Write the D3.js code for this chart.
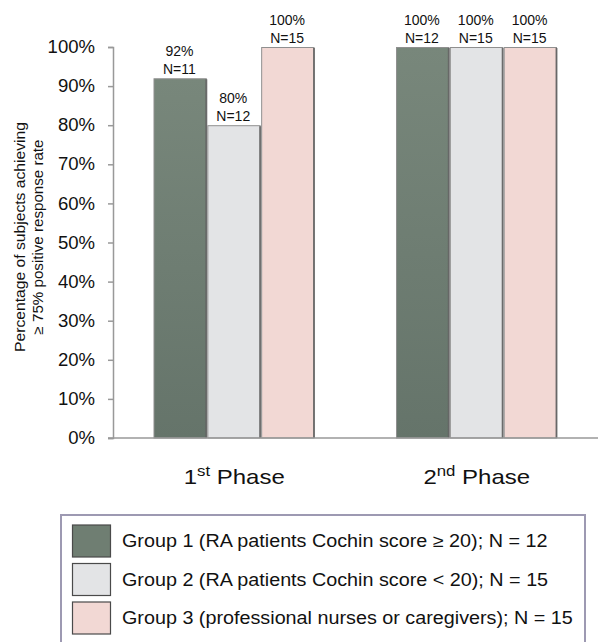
<!DOCTYPE html>
<html><head><meta charset="utf-8">
<script src="https://cdn.jsdelivr.net/npm/d3@7"></script>
<style>body{margin:0;background:#fff}svg{display:block;font-family:"Liberation Sans",Arial,sans-serif}</style>
</head><body><svg id="c" width="598" height="642"></svg>
<script>
const phases = ["1st Phase", "2nd Phase"];
const groups = ["Group 1", "Group 2", "Group 3"];
const values = [[92, 80, 100], [100, 100, 100]];
const nLabels = [["N=11", "N=12", "N=15"], ["N=12", "N=15", "N=15"]];
const yTicks = [0, 10, 20, 30, 40, 50, 60, 70, 80, 90, 100];
const legendLabels = [
  "Group 1 (RA patients Cochin score \u2265 20); N = 12",
  "Group 2 (RA patients Cochin score < 20); N = 15",
  "Group 3 (professional nurses or caregivers); N = 15"
];
const colors = ["#6f7e72", "#e3e4e6", "#f2d8d4"];

const svg = d3.select("#c");
const defs = svg.append("defs");
const g1 = defs.append("linearGradient").attr("id","g1").attr("x1",0).attr("y1",0).attr("x2",0).attr("y2",1);
g1.append("stop").attr("offset","0%").attr("stop-color","#78877b");
g1.append("stop").attr("offset","100%").attr("stop-color","#65746a");
const fills = ["url(#g1)", colors[1], colors[2]];

function stretch(sel, ax, k) {
  sel.attr("transform", `translate(${ax},0) scale(${k},1) translate(${-ax},0)`);
}

const x0 = d3.scaleBand().domain(phases).range([113, 598]).paddingInner(0.334).paddingOuter(0.167);
const x1 = d3.scaleBand().domain(groups).range([0, x0.bandwidth()]).padding(0);
const y = d3.scaleLinear().domain([0, 100]).range([438, 47]);

// y axis
const yAxis = d3.axisLeft(y).tickValues(yTicks).tickFormat(d => d + "%").tickSize(5).tickPadding(13);
const ya = svg.append("g").attr("transform","translate(113,0)").call(yAxis);
ya.select(".domain").attr("stroke","#999").attr("stroke-width",1.5);
ya.selectAll(".tick line").attr("stroke","#999").attr("stroke-width",1.5);
ya.selectAll(".tick text").attr("font-size",17.5).attr("fill","#111")
  .attr("font-family","'Liberation Sans',Arial,sans-serif")
  .each(function(){ stretch(d3.select(this), -18, 1.06); });

// bars
phases.forEach((p, pi) => {
  const gg = svg.append("g").attr("transform", `translate(${x0(p)},0)`);
  groups.forEach((gname, gi) => {
    const bx = x1(gname), bw = x1.bandwidth(), by = y(values[pi][gi]), bh = y(0) - y(values[pi][gi]);
    gg.append("rect").attr("x", bx + 0.5).attr("y", by + 0.5).attr("width", bw - 1.5).attr("height", bh - 0.5)
      .attr("fill", fills[gi]).attr("stroke", "#8f8f8f").attr("stroke-width", 1);
    gg.append("rect").attr("x", bx + bw - 2).attr("y", by + 1).attr("width", 2).attr("height", bh - 1).attr("fill", "#5a5a5a").attr("opacity", 0.75);
    const cx = bx + bw / 2 - 1;
    gg.append("text").attr("x", cx).attr("y", by - 22).attr("text-anchor","middle").attr("font-size",14).attr("fill","#111").text(values[pi][gi] + "%");
    gg.append("text").attr("x", cx).attr("y", by - 4).attr("text-anchor","middle").attr("font-size",14).attr("fill","#111").text(nLabels[pi][gi]);
  });
});

// x axis line
svg.append("line").attr("x1",108).attr("x2",598).attr("y1",y(0)).attr("y2",y(0)).attr("stroke","#999").attr("stroke-width",1.5);

// x labels
const xl = [["1", "st", " Phase"], ["2", "nd", " Phase"]];
phases.forEach((p, i) => {
  const cx = x0(p) + x0.bandwidth()/2;
  const t = svg.append("text").attr("x", cx).attr("y", 484).attr("text-anchor","middle").attr("font-size",20).attr("fill","#111");
  t.append("tspan").text(xl[i][0]);
  t.append("tspan").attr("font-size",14).attr("dy",-8).text(xl[i][1]);
  t.append("tspan").attr("dy",8).text(xl[i][2]);
  stretch(t, cx, 1.2);
});

// y title
const yt = svg.append("g").attr("transform","translate(0,237) rotate(-90)");
yt.append("text").attr("x",0).attr("y",25).attr("text-anchor","middle").attr("font-size",14.5).attr("fill","#111")
  .attr("textLength",230).attr("lengthAdjust","spacingAndGlyphs").text("Percentage of subjects achieving");
yt.append("text").attr("x",0).attr("y",43).attr("text-anchor","middle").attr("font-size",14.5).attr("fill","#111")
  .attr("textLength",195).attr("lengthAdjust","spacingAndGlyphs").text("\u2265 75% positive response rate");

// legend
svg.append("rect").attr("x",61).attr("y",515).attr("width",524).attr("height",140).attr("fill","#fff").attr("stroke","#9d99b2").attr("stroke-width",2);
legendLabels.forEach((l, i) => {
  const ly = 525 + i * 38.5;
  svg.append("rect").attr("x",72.5).attr("y",ly).attr("width",38).attr("height",32).attr("fill",colors[i]).attr("stroke","#4a4a4a").attr("stroke-width",1.2);
  const t = svg.append("text").attr("x",122).attr("y",ly + 22.5).attr("font-size",17.5).attr("fill","#111").text(l);
  stretch(t, 122, 1.13);
});
</script></body></html>
